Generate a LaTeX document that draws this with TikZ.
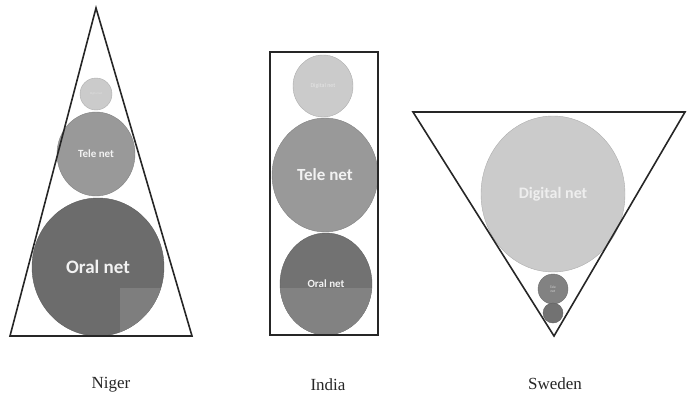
\documentclass[tikz,border=0pt]{standalone}
\usepackage{fontspec}
\setmainfont{Liberation Serif}
\newfontfamily\carl{Carlito}
\usetikzlibrary{shapes.geometric}
\definecolor{oraldark}{HTML}{6C6C6C}
\definecolor{oralpatch}{HTML}{7E7E7E}
\definecolor{oralmid}{HTML}{727272}
\definecolor{oralmidlow}{HTML}{828282}
\definecolor{telegrey}{HTML}{999999}
\definecolor{digilight}{HTML}{CBCBCB}
\definecolor{txtlight}{HTML}{F2F2F2}
\tikzset{
  ball/.style={ellipse, inner sep=0pt, draw=#1!85!black, line width=0.4pt, fill=#1, text=txtlight, font=\carl\bfseries},
  frame/.style={draw=black!85, line width=1.6pt, line join=miter},
  country/.style={font=\fontsize{17}{19}\selectfont, text=black!85},
}
\begin{document}
\begin{tikzpicture}[x=1pt,y=-1pt]
\useasboundingbox (0,0) rectangle (687,396);
% ---- Niger ----
\node[ball=oraldark, minimum width=132pt, minimum height=138pt] (noral) at (98,267) {};
\begin{scope}
  \clip (98,267) ellipse [x radius=66pt, y radius=69pt];
  \fill[oralpatch] (120,288) rectangle (170,340);
\end{scope}
\node[text=txtlight, font=\carl\bfseries\fontsize{19}{20}\selectfont] (noraltxt) at (noral.center) {Oral net};
\node[ball=telegrey, minimum width=78pt, minimum height=84pt, font=\carl\bfseries\fontsize{11}{12}\selectfont] (ntele) at (96,154) {Tele net};
\node[ball=digilight, minimum width=32pt, minimum height=32pt, text=digilight!60!white, font=\carl\fontsize{3}{3}\selectfont] (ndig) at (96,94) {Digital net};
\draw[frame] (96,8) -- (192,336) -- (10,336) -- cycle;
\node[country] (niger) at (111,385) {Niger};
% ---- India ----
\node[ball=digilight, minimum width=60pt, minimum height=62pt, text=digilight!50!white, font=\carl\fontsize{6}{7}\selectfont] (idig) at (323,86) {Digital net};
\node[ball=telegrey, minimum width=106pt, minimum height=114pt, font=\carl\bfseries\fontsize{17}{18}\selectfont] (itele) at (325,175) {Tele net};
\node[ball=oralmid, minimum width=92pt, minimum height=102pt] (ioral) at (326,284) {};
\begin{scope}
  \clip (326,284) ellipse [x radius=46pt, y radius=51pt];
  \fill[oralmidlow] (270,288) rectangle (380,340);
\end{scope}
\node[text=txtlight, font=\carl\bfseries\fontsize{11}{12}\selectfont] (ioraltxt) at (ioral.center) {Oral net};
\draw[frame] (270,52) rectangle (378,335);
\node[country] (india) at (328,385) {India};
% ---- Sweden ----
\node[ball=digilight, minimum width=144pt, minimum height=156pt, text=txtlight!90!digilight, font=\carl\bfseries\fontsize{16}{17}\selectfont] (sdig) at (553,194) {Digital net};
\node[ball=telegrey!85!black, minimum width=30pt, minimum height=30pt, text=telegrey!40!white, font=\carl\fontsize{3.5}{4}\selectfont, align=center] (stele) at (553,289) {Tele\\net};
\node[ball=oralmid, minimum width=20pt, minimum height=20pt] (soral) at (553,313) {};
\draw[frame] (413,112) -- (685,112) -- (554,336) -- cycle;
\node[country] (sweden) at (555,384) {Sweden};
\end{tikzpicture}
\end{document}
